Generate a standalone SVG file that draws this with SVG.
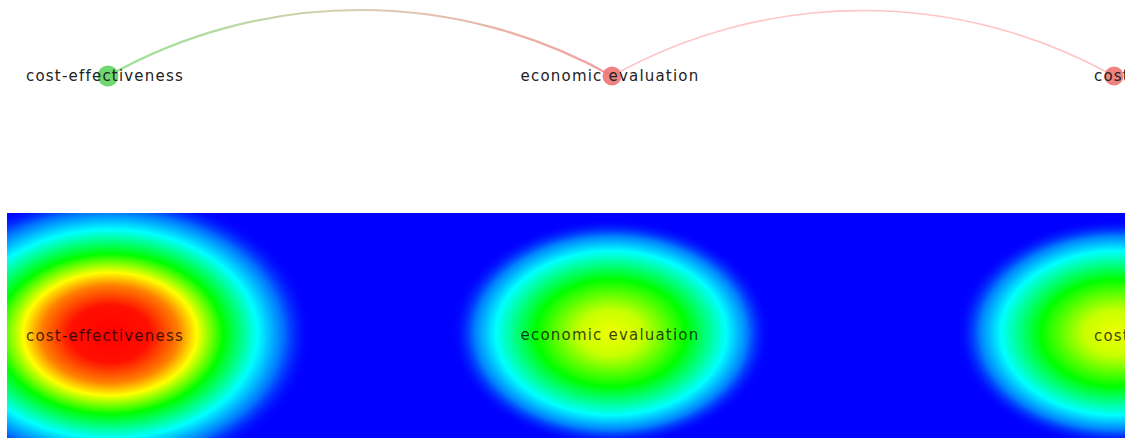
<svg xmlns="http://www.w3.org/2000/svg" width="1125" height="438" viewBox="0 0 1125 438">
<style>
.lbl{font-family:"DejaVu Sans","Noto Sans",sans-serif;font-size:15px;letter-spacing:1.2px;fill:#222;}
.hlbl{font-family:"DejaVu Sans","Noto Sans",sans-serif;font-size:15px;letter-spacing:1.2px;fill:#000;fill-opacity:0.75;}
.edge{fill:none;}
</style>
<defs>
<linearGradient id="e1" gradientUnits="userSpaceOnUse" x1="108" y1="0" x2="612" y2="0">
<stop offset="0" stop-color="#98e494"/>
<stop offset="0.5" stop-color="#dccdb2"/>
<stop offset="1" stop-color="#f4a0a0"/>
</linearGradient>
<radialGradient id="hotBlob" cx="0.5" cy="0.5" r="0.5">
<stop offset="0" stop-color="#ff0000"/>
<stop offset="0.2" stop-color="#ff1000"/>
<stop offset="0.34" stop-color="#ff8000"/>
<stop offset="0.43" stop-color="#ffff00"/>
<stop offset="0.56" stop-color="#00ff00"/>
<stop offset="0.73" stop-color="#00ffff"/>
<stop offset="0.86" stop-color="#0070ff"/>
<stop offset="1" stop-color="#0000ff" stop-opacity="0"/>
</radialGradient>
<radialGradient id="warmBlob" cx="0.5" cy="0.5" r="0.5">
<stop offset="0" stop-color="#f0ff00"/>
<stop offset="0.2" stop-color="#c8ff00"/>
<stop offset="0.47" stop-color="#00ff00"/>
<stop offset="0.72" stop-color="#00ffff"/>
<stop offset="0.85" stop-color="#0080ff"/>
<stop offset="1" stop-color="#0000ff" stop-opacity="0"/>
</radialGradient>
<clipPath id="hm"><rect x="7" y="213" width="1118" height="225"/></clipPath>
</defs>
<rect width="1125" height="438" fill="#fff"/>
<g id="connectors">
<path class="edge" d="M108,76 A514,514 0 0 1 612,76" stroke="url(#e1)" stroke-width="2.2"/>
<path class="edge" d="M612,76 A514,514 0 0 1 1114,76" stroke="#ffc4c4" stroke-width="1.6"/>
</g>
<g id="node-cost-effectiveness">
<circle cx="108" cy="76" r="10.5" fill="#62d462" fill-opacity="0.9"/>
<text class="lbl" x="105" y="81" text-anchor="middle">cost-effectiveness</text>
</g>
<g id="node-economic-evaluation">
<circle cx="612" cy="76" r="9.5" fill="#ef7474" fill-opacity="0.9"/>
<text class="lbl" x="610" y="81" text-anchor="middle">economic evaluation</text>
</g>
<g id="node-cost">
<circle cx="1114" cy="76" r="9.5" fill="#ef7474" fill-opacity="0.9"/>
<text class="lbl" x="1094" y="81">cost</text>
</g>
<g id="density" clip-path="url(#hm)">
<rect x="7" y="213" width="1118" height="225" fill="#0000ff"/>
<ellipse cx="611" cy="333" rx="160" ry="114" fill="url(#warmBlob)"/>
<ellipse cx="1116" cy="333" rx="160" ry="114" fill="url(#warmBlob)"/>
<ellipse cx="110" cy="334" rx="202" ry="143" fill="url(#hotBlob)"/>
<text class="hlbl" x="105" y="341" text-anchor="middle">cost-effectiveness</text>
<text class="hlbl" x="610" y="340" text-anchor="middle">economic evaluation</text>
<text class="hlbl" x="1094" y="341">cost</text>
</g>
</svg>
